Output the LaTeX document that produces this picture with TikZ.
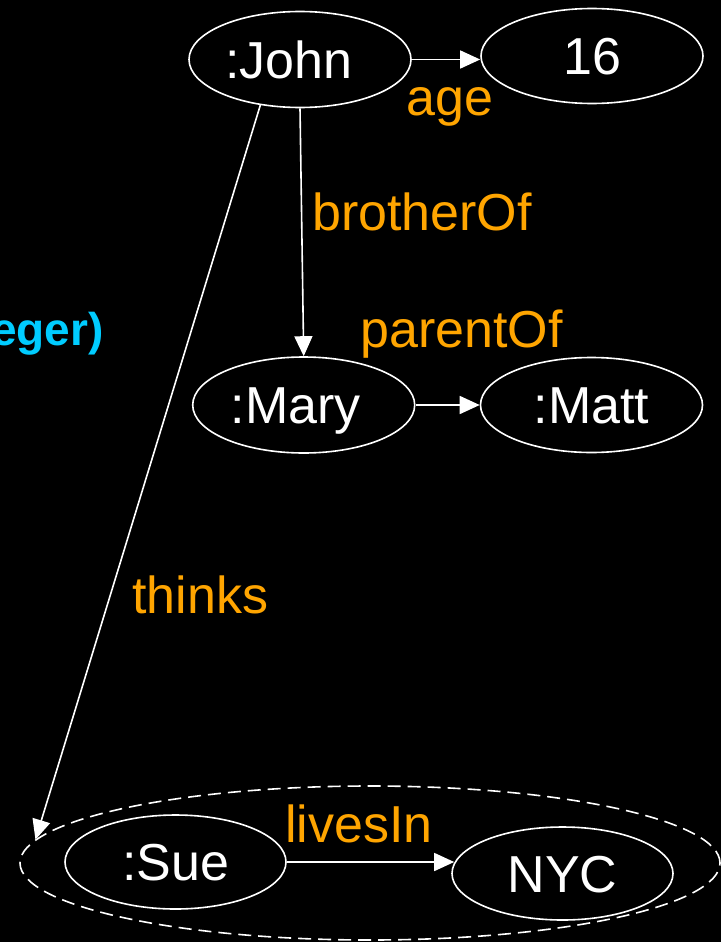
\documentclass[tikz,border=0pt]{standalone}
\usepackage{fontspec}
\setmainfont{Liberation Sans}
\usetikzlibrary{shapes.geometric,arrows.meta}
\definecolor{lblorange}{RGB}{255,165,0}
\definecolor{lblcyan}{RGB}{0,204,255}
\tikzset{
  res/.style={draw=white, line width=1.6pt, ellipse, inner sep=0pt,
    minimum width=222pt, minimum height=95pt, text=white,
    font=\fontsize{52}{60}\selectfont, text height=37pt, text depth=0pt},
  ctxbox/.style={draw=white, line width=1.6pt, ellipse, inner sep=0pt,
    dash pattern=on 13pt off 7pt, minimum width=700pt, minimum height=154pt},
  rel/.style={draw=white, line width=1.6pt, -{Triangle[length=20pt,width=18pt]}},
  lbl/.style={text=lblorange, font=\fontsize{52}{60}\selectfont, inner sep=0pt, anchor=base west},
}
\begin{document}
\begin{tikzpicture}[x=1pt,y=-1pt]
\fill[black] (0,0) rectangle (721,942);
\useasboundingbox (0,0) rectangle (721,942);

\node[res, minimum height=96pt] (john) at (300,59.5) {\hspace*{-22pt}:John};
\node[res] (sixteen) at (592,56) {16};
\node[res, minimum height=96pt] (mary) at (303.7,405) {\hspace*{-16pt}:Mary};
\node[res] (matt) at (591.5,405) {:Matt};
\node[ctxbox] (ctx) at (370,863) {};
\node[res, minimum width=221pt, minimum height=94pt] (sue) at (175.5,862) {:Sue};
\node[res, minimum width=221pt, minimum height=93pt] (nyc) at (562.5,873.5) {NYC};

\draw[rel] (john.east) -- (john.east -| sixteen.west);
\draw[rel] (john.south) -- (mary.north);
\draw[rel] (mary.east) -- (mary.east -| matt.west);
\draw[rel] (john.229) -- (ctx.176);
\draw[rel] (sue.east) -- ([xshift=3pt]sue.east -| nyc.west);

\node[lbl] (lage) at (406,115.5) {age};
\node[lbl] (lbro) at (312,230) {brotherOf};
\node[lbl] (lpar) at (360,347) {parentOf};
\node[lbl] (lthi) at (132,613) {thinks};
\node[lbl] (lliv) at (285,842) {livesIn};
\node[text=lblcyan, font=\fontsize{46}{54}\selectfont\bfseries, inner sep=0pt, anchor=base east] (ltype) at (104,345) {eger)};
\end{tikzpicture}
\end{document}
